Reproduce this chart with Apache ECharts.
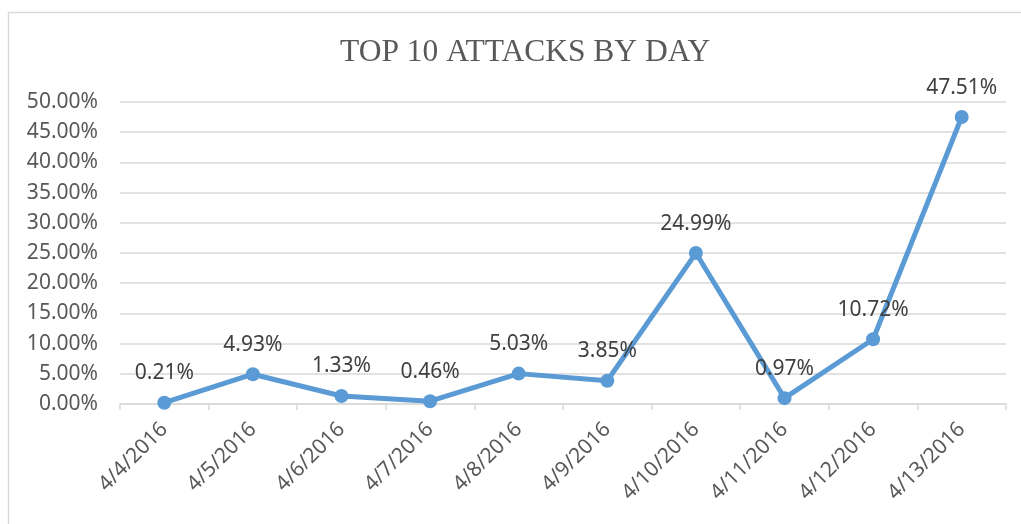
<!DOCTYPE html>
<html>
<head>
<meta charset="utf-8">
<script src="https://cdn.jsdelivr.net/npm/echarts@6/dist/echarts.min.js"></script>
<style>
  html, body { margin: 0; padding: 0; background: #ffffff; }
  #chart { width: 1021px; height: 524px; }
</style>
</head>
<body>
<div id="chart"></div>
<script>
// Daily share of the top 10 attacks, in percent
const days = ['4/4/2016', '4/5/2016', '4/6/2016', '4/7/2016', '4/8/2016',
              '4/9/2016', '4/10/2016', '4/11/2016', '4/12/2016', '4/13/2016'];
const attackShare = [0.21, 4.93, 1.33, 0.46, 5.03, 3.85, 24.99, 0.97, 10.72, 47.51];
const chartTitle = 'TOP 10 ATTACKS BY DAY';

const pct = v => v.toFixed(2) + '%';
const textGray = '#595959';
const gridGray = '#d9d9d9';
const lineBlue = '#5b9bd5';

const chart = echarts.init(document.getElementById('chart'), null, { renderer: 'canvas' });
chart.setOption({
  animation: false,
  backgroundColor: '#ffffff',
  graphic: [{
    type: 'rect',
    shape: { x: 8.5, y: 12.5, width: 1100, height: 600 },
    style: { fill: 'none', stroke: gridGray, lineWidth: 1.5 },
    silent: true
  }],
  title: {
    text: chartTitle,
    left: 335,
    top: 32,
    textStyle: {
      fontFamily: '"Liberation Serif", "DejaVu Serif", serif',
      fontWeight: 'normal',
      fontSize: 31.5,
      color: textGray
    }
  },
  grid: { left: 120, right: 15, top: 102, bottom: 120, containLabel: false },
  xAxis: {
    type: 'category',
    data: days,
    boundaryGap: true,
    axisLine: { lineStyle: { color: gridGray, width: 1.5 } },
    axisTick: { show: true, length: 6, lineStyle: { color: gridGray, width: 1.5 } },
    axisLabel: {
      rotate: 45,
      margin: 22,
      fontFamily: '"Noto Sans", sans-serif',
      fontSize: 21,
      color: textGray,
      interval: 0
    }
  },
  yAxis: {
    type: 'value',
    min: 0,
    max: 50,
    interval: 5,
    axisLine: { show: false },
    axisTick: { show: false },
    splitLine: { lineStyle: { color: gridGray, width: 1.5 } },
    axisLabel: {
      formatter: pct,
      margin: 22,
      fontFamily: '"Noto Sans", sans-serif',
      fontSize: 21,
      color: textGray
    }
  },
  series: [{
    type: 'line',
    data: attackShare,
    symbol: 'circle',
    symbolSize: 14,
    lineStyle: { color: lineBlue, width: 5 },
    itemStyle: { color: lineBlue },
    label: {
      show: true,
      position: 'top',
      distance: 12,
      formatter: p => pct(p.value),
      fontFamily: '"Noto Sans", sans-serif',
      fontSize: 21,
      color: '#404040'
    }
  }]
});
</script>
</body>
</html>
